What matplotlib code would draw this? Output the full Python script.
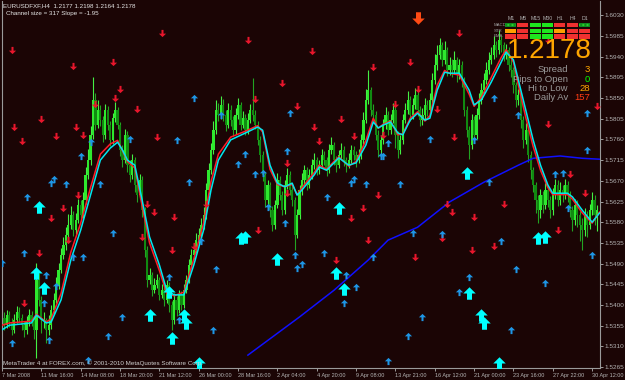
import matplotlib
matplotlib.use("Agg")
import matplotlib.pyplot as plt
import numpy as np
from matplotlib.path import Path
from matplotlib.patches import Rectangle

plt.rcParams['font.family'] = ['Liberation Sans', 'DejaVu Sans']

# H4 bars, prices in pips above 1.5000
first_open = 380
close_pips = [
    372, 356, 378, 363, 346, 367, 385, 372, 356, 346,
    363, 378, 367, 346, 454, 411, 367, 367, 346, 356,
    389, 411, 443, 476, 509, 530, 552, 574, 596, 563,
    585, 617, 596, 628, 683, 715, 770, 846, 791, 824,
    802, 770, 824, 791, 759, 806, 824, 791, 737, 715,
    770, 704, 683, 715, 661, 639, 672, 606, 520, 454,
    465, 432, 443, 454, 422, 432, 411, 443, 400, 367,
    411, 389, 422, 400, 432, 454, 487, 509, 520, 541,
    552, 574, 596, 650, 693, 737, 780, 824, 813, 835,
    813, 791, 824, 802, 780, 813, 835, 791, 806, 780,
    802, 824, 813, 791, 759, 726, 683, 628, 661, 606,
    574, 617, 672, 639, 606, 661, 683, 650, 628, 552,
    596, 650, 672, 693, 661, 683, 704, 715, 693, 704,
    726, 715, 693, 737, 748, 715, 704, 726, 737, 715,
    704, 715, 737, 726, 715, 726, 759, 802, 846, 867,
    824, 813, 770, 737, 759, 791, 813, 780, 802, 824,
    770, 737, 759, 802, 824, 846, 813, 835, 856, 824,
    802, 813, 835, 824, 846, 889, 922, 943, 965, 933,
    954, 911, 922, 911, 933, 900, 922, 889, 824, 780,
    748, 802, 770, 813, 846, 867, 889, 911, 933, 943,
    965, 954, 976, 965, 943, 954, 922, 911, 878, 846,
    856, 802, 759, 780, 726, 693, 661, 628, 606, 639,
    617, 650, 628, 606, 639, 661, 628, 650, 639, 661,
    639, 606, 585, 617, 596, 574, 563, 596, 574, 606,
    628, 596, 606]
high_pips = [
    392, 385, 390, 386, 372, 380, 398, 395, 380, 365,
    375, 392, 388, 372, 491, 470, 420, 385, 372, 378,
    400, 425, 460, 492, 525, 548, 570, 598, 615, 605,
    600, 630, 628, 645, 700, 740, 790, 896, 860, 845,
    835, 810, 838, 832, 800, 818, 842, 830, 798, 748,
    782, 778, 715, 728, 722, 672, 685, 680, 612, 528,
    480, 472, 458, 468, 460, 445, 440, 455, 450, 408,
    425, 420, 432, 430, 445, 466, 500, 522, 535, 556,
    568, 590, 612, 665, 708, 752, 800, 845, 840, 855,
    848, 825, 840, 835, 812, 828, 850, 842, 822, 815,
    818, 838, 893, 825, 800, 768, 735, 690, 672, 668,
    615, 628, 688, 680, 648, 672, 698, 692, 660, 635,
    608, 662, 688, 705, 700, 695, 718, 730, 722, 716,
    740, 735, 722, 750, 765, 755, 725, 738, 752, 745,
    722, 730, 748, 745, 735, 740, 772, 820, 870, 910,
    875, 838, 822, 780, 770, 805, 830, 822, 815, 840,
    832, 778, 770, 815, 840, 865, 855, 850, 872, 865,
    832, 828, 850, 845, 860, 905, 945, 965, 980, 972,
    975, 962, 940, 935, 952, 940, 935, 930, 895, 832,
    790, 815, 810, 828, 862, 882, 905, 928, 950, 962,
    985, 975, 998, 985, 972, 968, 962, 935, 918, 885,
    870, 862, 810, 795, 788, 735, 700, 668, 640, 652,
    648, 665, 660, 638, 655, 675, 672, 668, 660, 675,
    670, 648, 615, 630, 628, 605, 590, 610, 605, 620,
    645, 640, 618]
low_pips = [
    360, 345, 350, 352, 335, 340, 360, 362, 345, 330,
    338, 355, 355, 325, 285, 398, 340, 350, 318, 335,
    348, 380, 405, 435, 470, 500, 520, 545, 565, 550,
    555, 578, 585, 590, 620, 675, 705, 760, 780, 785,
    790, 755, 762, 780, 745, 750, 798, 782, 725, 700,
    708, 690, 668, 675, 645, 625, 630, 592, 505, 440,
    445, 420, 425, 436, 410, 415, 398, 405, 385, 346,
    358, 375, 382, 390, 394, 425, 448, 480, 500, 512,
    535, 545, 566, 588, 642, 685, 728, 772, 800, 805,
    800, 778, 785, 790, 768, 772, 805, 780, 784, 770,
    772, 795, 800, 782, 748, 712, 670, 612, 620, 592,
    560, 565, 610, 628, 595, 598, 652, 640, 615, 520,
    545, 588, 640, 662, 650, 655, 675, 695, 682, 685,
    698, 705, 680, 688, 728, 705, 690, 698, 718, 702,
    690, 698, 708, 715, 700, 708, 718, 750, 795, 838,
    812, 800, 758, 722, 728, 750, 782, 770, 772, 795,
    742, 720, 728, 750, 795, 815, 800, 805, 826, 812,
    790, 792, 805, 812, 815, 838, 880, 912, 935, 920,
    925, 898, 900, 895, 902, 885, 892, 875, 810, 765,
    718, 740, 758, 762, 805, 838, 860, 880, 902, 925,
    935, 940, 945, 950, 930, 935, 908, 895, 862, 830,
    835, 785, 742, 750, 710, 675, 645, 600, 578, 590,
    600, 608, 612, 590, 595, 630, 615, 618, 625, 630,
    625, 592, 560, 575, 570, 540, 520, 550, 548, 565,
    595, 575, 560]

# moving averages (bar index, pips)
ma_bars = [0, 3, 12, 14, 18, 20, 24, 28, 32, 36, 40, 44, 47, 49, 51, 54, 57, 60, 64, 67,
           70, 74, 78, 82, 85, 88, 93, 99, 104, 106, 109, 112, 115, 118, 120, 122, 127, 129, 132, 135,
           137, 141, 144, 148, 151, 153, 155, 158, 161, 163, 166, 169, 172, 174, 177, 180, 182, 186, 190, 192,
           195, 199, 203, 205, 208, 210, 213, 216, 219, 222, 224, 230, 232, 236, 240, 243]
cyan_ma = [346, 356, 361, 378, 361, 363, 411, 498, 563, 639, 715, 741, 754, 737, 715, 704, 628, 548, 487, 432,
           422, 422, 487, 563, 650, 715, 759, 774, 787, 780, 704, 665, 657, 665, 639, 650, 683, 700, 693, 709,
           720, 704, 709, 748, 798, 785, 791, 798, 774, 770, 802, 817, 802, 806, 867, 906, 904, 904, 867, 835,
           846, 885, 928, 950, 933, 889, 824, 759, 704, 661, 643, 643, 635, 606, 580, 600]
red_ma = [356, 361, 365, 380, 363, 370, 425, 515, 578, 655, 728, 750, 758, 735, 712, 698, 615, 535, 475, 425,
          420, 428, 500, 578, 668, 728, 765, 778, 790, 776, 695, 662, 657, 662, 640, 655, 688, 704, 695, 712,
          722, 702, 712, 758, 806, 784, 793, 800, 770, 772, 806, 820, 800, 812, 878, 910, 904, 900, 858, 832,
          852, 895, 938, 955, 928, 878, 808, 745, 693, 655, 640, 640, 630, 600, 578, 602]
blue_bars = [100, 121, 135, 149, 157, 169, 182, 196, 210, 216, 227, 236, 243]
blue_ma = [291, 374, 432, 498, 541, 569, 624, 667, 704, 719, 724, 719, 717]

# signal arrows (bar index, pips)
sell_bars = [4, 29, 45, 48, 46, 55, 16, 5, 30, 8, 22, 33, 38, 31, 25, 20, 27, 15, 9, 59, 57,
             65, 100, 114, 103, 120, 63, 62, 70, 83, 78, 69, 104, 116, 116,
             126, 151, 166, 169, 138, 127, 160, 143, 129, 155, 177, 153, 147, 142, 149, 136, 168, 179, 181,
             186, 222, 242, 222, 184, 204, 183, 192, 231, 237, 226, 200, 191]
sell_pips = [954, 920, 928, 869, 850, 826, 804, 787, 787, 756, 767, 770, 837, 639, 611, 589, 541, 513, 404, 620, 548,
             991, 976, 883, 848, 833, 765, 602, 591, 620, 528, 520, 563, 709, 643,
             952, 917, 928, 870, 804, 787, 837, 767, 756, 770, 826, 639, 611, 589, 541, 498, 504, 546, 620,
             991, 976, 833, 793, 765, 620, 602, 591, 685, 643, 563, 528, 520]
buy_bars = [36, 32, 21, 20, 26, 40, 10, 52, 45, 9, 29, 33, 0, 18, 17, 22, 49, 4, 19, 43, 35,
            78, 71, 89, 76, 96, 99, 103, 106, 117, 116, 108, 115, 81, 87, 68, 119, 120, 72, 86,
            157, 154, 155, 143, 142, 148, 162, 132, 174, 167, 131, 151, 122, 140, 144, 139, 171, 165, 157, 179,
            200, 238, 210, 192, 238, 225, 228, 198, 230, 203, 240, 209, 190, 186, 221, 207]
buy_pips = [754, 724, 674, 665, 663, 663, 635, 761, 556, 513, 504, 504, 491, 465, 404, 441, 374, 317, 324, 333, 280,
            850, 759, 813, 667, 706, 728, 685, 687, 817, 735, 613, 578, 539, 478, 461, 509, 480, 367, 346,
            752, 724, 724, 674, 665, 663, 663, 635, 761, 556, 513, 504, 489, 465, 439, 404, 374, 333, 278, 554,
            850, 817, 813, 759, 737, 685, 687, 667, 611, 539, 509, 478, 461, 428, 448, 346]
strong_buy_bars = [15, 14, 17, 60, 97, 99, 112, 68, 74, 75, 69, 80, 137, 136, 139,
                   189, 218, 221, 190, 195, 196, 202]
strong_buy_pips = [613, 470, 437, 378, 546, 548, 500, 428, 378, 361, 328, 274, 611, 470, 435,
                   687, 546, 548, 426, 378, 361, 274]
strong_sell_bars = [169]
strong_sell_pips = [1024]

price_ticks = [1.6030, 1.5985, 1.5940, 1.5895, 1.5850, 1.5805, 1.5760, 1.5715, 1.5670,
               1.5625, 1.5580, 1.5535, 1.5490, 1.5445, 1.5400, 1.5355, 1.5310, 1.5265]
time_labels = ['7 Mar 2008', '11 Mar 16:00', '14 Mar 08:00', '18 Mar 20:00', '21 Mar 12:00',
               '26 Mar 00:00', '28 Mar 16:00', '2 Apr 04:00', '4 Apr 20:00', '9 Apr 08:00',
               '13 Apr 21:00', '16 Apr 12:00', '21 Apr 00:00', '23 Apr 16:00', '27 Apr 22:00',
               '30 Apr 12:00']
bars_per_label = 16

# trend panel
tf_names = ['M1', 'M5', 'M15', 'M30', 'H1', 'H4', 'D1']
row_names = ['MACD', 'STR', 'EMA']
panel_states = [['G+', 'R', 'G', 'G', 'R', 'R', 'G+'],
                ['O', 'R', 'G', 'G', 'O', 'R', 'R'],
                ['R', 'R', 'G', 'G', 'R', 'R', 'R']]
last_price = '1.2178'
info_names = ['Spread', 'Pips to Open', 'Hi to Low', 'Daily Av']
info_values = ['3', '0', '28', '157']
info_colors = ['#ffa500', '#00ff00', '#ffa500', '#ff3c14']


def px(p):
    return 1.5 + np.asarray(p) / 10000.0


BG = '#1b0505'
AXC = '#b4b4b4'
W, H = 625, 380

fig = plt.figure(figsize=(W / 100, H / 100), dpi=100, facecolor=BG)
ax = fig.add_axes([2 / W, 12 / H, 598 / W, 367 / H], facecolor=BG)

close = px(close_pips)
high = px(high_pips)
low = px(low_pips)
opens = np.r_[px(first_open), close[:-1]]
idx = np.arange(len(close))
up = close >= opens

ax.vlines(idx[up], low[up], high[up], color='#44f044', lw=0.8, zorder=2)
ax.vlines(idx[~up], low[~up], high[~up], color='#22a422', lw=0.8, zorder=2)
body = np.maximum(np.abs(close - opens), 0.00008)
ax.bar(idx[up], body[up], bottom=opens[up], width=0.9, color='#2ee82e', zorder=2)
ax.bar(idx[~up], body[~up], bottom=close[~up], width=0.9, color='#118a11', zorder=2)

ax.plot(blue_bars, px(blue_ma), color='#1010ff', lw=1.1, zorder=3)
ax.plot(ma_bars, px(red_ma), color='#ff1c28', lw=1.1, zorder=3)
ax.plot(ma_bars, px(cyan_ma), color='#00e8f0', lw=1.1, zorder=4)

up_arrow = Path([(0, 0.5), (0.5, 0.02), (0.14, 0.02), (0.14, -0.5), (-0.14, -0.5),
                 (-0.14, 0.02), (-0.5, 0.02), (0, 0.5)])
dn_arrow = Path([(x, -y) for x, y in up_arrow.vertices])
fat_up = Path([(0, 0.5), (0.5, 0.0), (0.2, 0.0), (0.2, -0.5), (-0.2, -0.5),
               (-0.2, 0.0), (-0.5, 0.0), (0, 0.5)])
fat_dn = Path([(x, -y) for x, y in fat_up.vertices])

ax.plot(sell_bars, px(sell_pips), ls='none', marker=dn_arrow, ms=5.2, color='#e8162c', mew=0, zorder=5)
ax.plot(buy_bars, px(buy_pips), ls='none', marker=up_arrow, ms=5.2, color='#1e96e6', mew=0, zorder=5)
ax.plot(strong_buy_bars, px(strong_buy_pips), ls='none', marker=fat_up, ms=9, color='#00ffff', mew=0, zorder=5)
ax.plot(strong_sell_bars, px(strong_sell_pips), ls='none', marker=fat_dn, ms=9, color='#ff4a14', mew=0, zorder=5)

ax.set_xlim(0.1, 243.2)
ax.set_ylim(1.5263, 1.6061)

ax.yaxis.tick_right()
ax.set_yticks(price_ticks)
ax.set_yticklabels(['%.4f' % t for t in price_ticks])
ax.set_xticks([i * bars_per_label for i in range(len(time_labels))])
ax.set_xticklabels(time_labels, ha='left')
ax.tick_params(axis='both', colors=AXC, length=2, width=0.6, pad=1)
ax.tick_params(axis='y', labelsize=4.6)
ax.tick_params(axis='x', labelsize=4.0, pad=1.5)
ax.spines['top'].set_visible(False)
for s in ['left', 'right', 'bottom']:
    ax.spines[s].set_color('#9a9a9a')
    ax.spines[s].set_linewidth(0.8)


def fx(x):
    return x / W


def fy(y):
    return 1 - y / H


fig.text(fx(3), fy(6), 'EURUSDFXF,H4  1.2177 1.2198 1.2164 1.2178', color='#e6e6e6',
         fontsize=4.5, va='center', ha='left')
fig.text(fx(6), fy(13), 'Channel size = 317 Slope = -1.95', color='#e6e6e6',
         fontsize=4.5, va='center', ha='left')
fig.text(fx(3), fy(363), 'MetaTrader 4 at FOREX.com, \u00a9 2001-2010 MetaQuotes Software Corp.',
         color='#d0d0d0', fontsize=4.5, va='center', ha='left', zorder=1)

cell_colors = {'G+': '#0f8a1e', 'R': '#f03030', 'G': '#1ee61e', 'O': '#ffa000'}
for j, name in enumerate(tf_names):
    fig.text(fx(511 + j * 12.3), fy(18), name, color='#b0b0b0', fontsize=3.8,
             ha='center', va='center')
for i, rname in enumerate(row_names):
    fig.text(fx(494), fy(25 + i * 5.6), rname, color='#9a9a9a', fontsize=3.2,
             ha='left', va='center')
    for j, st in enumerate(panel_states[i]):
        r = Rectangle((fx(505 + j * 12.3), fy(27.3 + i * 5.6)), fx(11), 4.3 / H,
                      transform=fig.transFigure, color=cell_colors[st], zorder=6,
                      hatch='....' if st == 'G+' else None,
                      ec='#2ad22a' if st == 'G+' else cell_colors[st], lw=0)
        fig.patches.append(r)

fig.text(fx(549), fy(51), last_price, color='#ffa500', fontsize=20, ha='center', va='center')
for i, (name, val, col) in enumerate(zip(info_names, info_values, info_colors)):
    fig.text(fx(568), fy(70 + i * 9.2), name, color='#9a9a9a', fontsize=6.8, ha='right', va='center')
    fig.text(fx(590), fy(70 + i * 9.2), val, color=col, fontsize=6.8, ha='right', va='center')

fig.savefig('out.png', dpi=100, facecolor=BG)
